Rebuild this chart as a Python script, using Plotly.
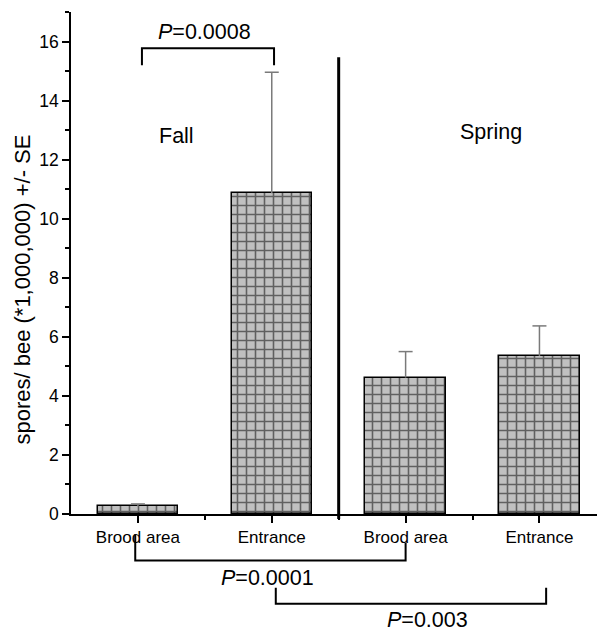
import plotly.graph_objects as go

categories = ["Brood area", "Entrance", "Brood area", "Entrance"]
x_pos = [0, 1, 2, 3]
means = [0.26, 10.86, 4.62, 5.35]
se = [0.08, 4.1, 0.88, 1.02]
seasons = ["Fall", "Spring"]
p_labels = ["0.0008", "0.0001", "0.003"]

YMAX = 17
FONT = "Arial, Liberation Sans, sans-serif"
ERR_COLOR = "#7a7a7a"

fig = go.Figure()
fig.add_trace(go.Bar(
    x=x_pos, y=means, width=0.6,
    marker=dict(color="#c0c0c0", line=dict(color="black", width=1.5),
                pattern=dict(shape="+", fgcolor="black", bgcolor="#c0c0c0",
                             size=9, solidity=0.32)),
    error_y=dict(type="data", array=se, arrayminus=[0]*len(se), symmetric=False,
                 color=ERR_COLOR, thickness=1.5, width=0),
    showlegend=False,
))
# error-bar caps (top only)
fig.add_trace(go.Scatter(
    x=x_pos, y=[m + s for m, s in zip(means, se)], mode="markers",
    marker=dict(symbol="line-ew", size=10, line=dict(color=ERR_COLOR, width=1.5)),
    showlegend=False, hoverinfo="skip",
))

# separator between seasons
fig.add_shape(type="line", xref="x", yref="paper", x0=1.5, x1=1.5,
              y0=-0.01, y1=15.47 / YMAX, line=dict(color="black", width=3))

# top bracket (Fall brood vs Fall entrance)
fig.add_shape(type="path", xref="x", yref="y",
              path="M 0.03,15.2 L 0.03,15.77 L 1.017,15.77 L 1.017,15.2",
              line=dict(color="black", width=2))

def ann(x, y, text, xref="x", yref="y", size=21.5, angle=0):
    fig.add_annotation(x=x, y=y, xref=xref, yref=yref, showarrow=False,
                       xanchor="center", yanchor="middle", textangle=angle,
                       text=text, font=dict(size=size, family=FONT, color="black"))

ann(0.5, 16.32, "<i>P</i>=" + p_labels[0])

# bottom bracket 1
fig.add_shape(type="path", xref="x", yref="paper",
              path="M -0.02,-0.041 L -0.02,-0.0924 L 2.0,-0.0924 L 2.0,-0.0572",
              line=dict(color="black", width=2))
ann(0.97, -0.127, "<i>P</i>=" + p_labels[1], yref="paper")
# bottom bracket 2
fig.add_shape(type="path", xref="x", yref="paper",
              path="M 1.03,-0.1468 L 1.03,-0.1787 L 3.05,-0.1787 L 3.05,-0.1468",
              line=dict(color="black", width=2))
ann(2.16, -0.2106, "<i>P</i>=" + p_labels[2], yref="paper")

# season labels
ann(0.285, 12.8, seasons[0])
ann(2.64, 12.93, seasons[1])

# y-axis title
ann(-0.0913, 0.447, "spores/ bee (*1,000,000) +/- SE", xref="paper", yref="paper",
    size=22, angle=-90)

fig.update_layout(
    width=597, height=632,
    margin=dict(l=71, r=0, t=12, b=118),
    paper_bgcolor="white", plot_bgcolor="white",
    font=dict(family=FONT, color="black"),
    bargap=0,
    xaxis=dict(range=[-0.5, 3.43], tickmode="array", tickvals=x_pos, ticktext=categories,
               showline=True, linecolor="black", linewidth=1.5,
               ticks="outside", ticklen=7, tickwidth=1.5, tickcolor="black",
               tickfont=dict(size=17, family=FONT, color="black"),
               minor=dict(tickmode="array", tickvals=[0.5, 1.5, 2.5], ticks="outside",
                          ticklen=4, tickwidth=1.5, tickcolor="black"),
               showgrid=False, zeroline=False, fixedrange=True),
    yaxis=dict(range=[0, YMAX], tickmode="linear", tick0=0, dtick=2,
               showline=True, linecolor="black", linewidth=1.5,
               ticks="outside", ticklen=7, tickwidth=1.5, tickcolor="black",
               tickfont=dict(size=17.5, family=FONT, color="black"),
               minor=dict(tickmode="linear", tick0=0, dtick=1, ticks="outside",
                          ticklen=4, tickwidth=1.5, tickcolor="black"),
               showgrid=False, zeroline=False, fixedrange=True),
)

fig.write_html("out.html")
